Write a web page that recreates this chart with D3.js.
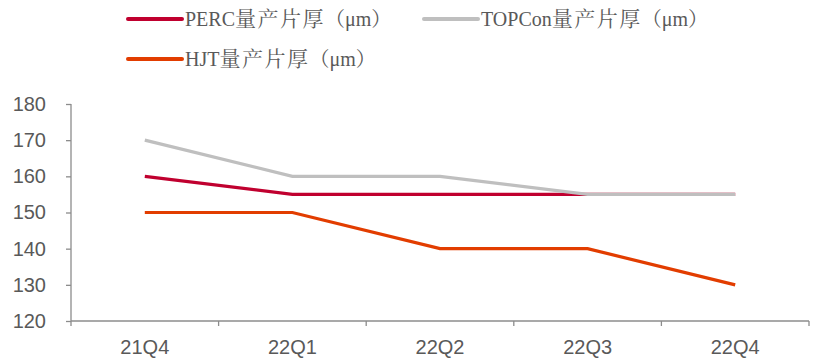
<!DOCTYPE html>
<html><head><meta charset="utf-8">
<script src="https://cdn.jsdelivr.net/npm/d3@7"></script>
<style>body{margin:0;background:#fff}svg{display:block}</style>
</head><body><svg id="c" width="815" height="358"></svg>
<script>
const categories = ["21Q4","22Q1","22Q2","22Q3","22Q4"];
const perc = [160,155,155,155,155];
const topcon = [170,160,160,155,155];
const hjt = [150,150,140,140,130];
const yTicks = [120,130,140,150,160,170,180];
const seriesPrefix = ["PERC","TOPCon","HJT"];
const seriesSuffix = "量产片厚";
const seriesUnit = "（μm）";
const colors = ["#C0002F","#BFBFBF","#E23D00"];

const svg = d3.select("#c");
const x = d3.scaleBand().domain(categories).range([71,809]);
const y = d3.scaleLinear().domain([120,180]).range([321,104]);
const axisColor = "#8c8c8c", textColor = "#595959";
const sans = "'Liberation Sans',Arial,sans-serif";
const serif = "'Liberation Serif','Noto Serif CJK SC','Noto Sans CJK SC',serif";

// y axis
const ya = svg.append("g").attr("transform","translate(71,0)")
  .call(d3.axisLeft(y).tickValues(yTicks).tickSize(5).tickPadding(20).tickFormat(d3.format("d")));
ya.selectAll("path,line").attr("stroke",axisColor).attr("stroke-width",1.3);
ya.selectAll("text").attr("fill",textColor).style("font-family",sans).style("font-size","20px");
ya.select(".domain").attr("d","M0,104V321");

// x axis
const xa = svg.append("g").attr("transform","translate(0,321)")
  .call(d3.axisBottom(x).tickSize(0).tickPadding(19));
xa.select(".domain").attr("d","M71,0H809").attr("stroke",axisColor).attr("stroke-width",1.3);
xa.selectAll("text").attr("fill",textColor).style("font-family",sans).style("font-size","20px");
const bounds = categories.map(c=>x(c)).concat([x.range()[1]]);
xa.selectAll(".bt").data(bounds).enter().append("line").attr("class","bt")
  .attr("x1",d=>d).attr("x2",d=>d).attr("y1",0).attr("y2",5).attr("stroke",axisColor).attr("stroke-width",1.3);

const line = d3.line().x((d,i)=>x(categories[i])+x.bandwidth()/2).y(d=>y(d));
[perc,topcon,hjt].forEach((s,i)=>{
  svg.append("path").datum(s).attr("d",line).attr("fill","none")
    .attr("stroke",colors[i]).attr("stroke-width",3.2);
});

// legend
const leg = [{x:128,y:19},{x:424,y:19},{x:128,y:59}];
leg.forEach((p,i)=>{
  svg.append("line").attr("x1",p.x).attr("x2",p.x+54).attr("y1",p.y).attr("y2",p.y)
    .attr("stroke",colors[i]).attr("stroke-width",4).attr("stroke-linecap","round");
  const t = svg.append("text").attr("x",p.x+57).attr("y",p.y+7)
    .attr("fill",textColor).style("font-family",serif).style("font-size","20px");
  t.append("tspan").text(seriesPrefix[i]);
  t.append("tspan").text(seriesSuffix).style("font-size","21px").style("letter-spacing","1.5px");
  t.append("tspan").text(seriesUnit);
});
</script></body></html>
